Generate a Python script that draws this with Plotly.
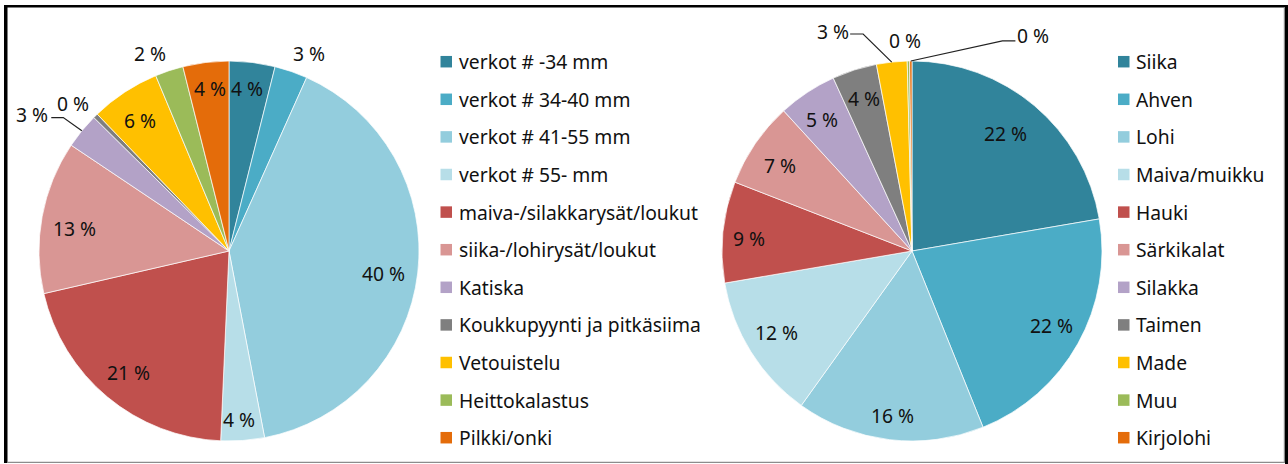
import math
import plotly.graph_objects as go

# ---------------- data ----------------
gear_labels = ["verkot # -34 mm", "verkot # 34-40 mm", "verkot # 41-55 mm", "verkot # 55- mm",
               "maiva-/silakkarysät/loukut", "siika-/lohirysät/loukut", "Katiska",
               "Koukkupyynti ja pitkäsiima", "Vetouistelu", "Heittokalastus", "Pilkki/onki"]
gear_share = [3.9, 2.8, 40.3, 3.7, 20.7, 13.0, 3.0, 0.4, 5.9, 2.4, 3.9]

species_labels = ["Siika", "Ahven", "Lohi", "Maiva/muikku", "Hauki", "Särkikalat", "Silakka",
                  "Taimen", "Made", "Muu", "Kirjolohi"]
species_share = [22.3, 21.6, 16.0, 12.4, 8.6, 7.3, 5.0, 3.8, 2.6, 0.2, 0.2]

# ---------------- style ----------------
colors = ["#31849B", "#4BACC6", "#93CDDD", "#B7DEE8", "#C0504D", "#D99694",
          "#B3A2C7", "#7F7F7F", "#FFC000", "#9BBB59", "#E46C0A"]

W, H = 1288, 464
FONT = "Noto Sans"
FS = 19.3
TXT = "#111111"

# pie geometry in pixels: centre x, centre y, radius
left_geom = (229, 251, 190)
right_geom = (912, 251, 190)

# label placement per slice: (radius factor, angle offset deg)
left_lbl = [(0.86, -0.7), (1.12, 3.0), (0.82, 1.5), (0.89, 0.7), (0.83, 0.0), (0.82, -2.0),
            (1.26, -4.5), (1.13, -2.0), (0.83, -1.0), (1.12, -3.4), (0.86, 0.5)]
right_lbl = [(0.79, -1.4), (0.83, -1.0), (0.87, 0.0), (0.83, 1.0), (0.86, -1.4), (0.83, -1.4),
             (0.84, -0.8), (0.84, 0.0), (1.23, -13.6), (1.11, -0.8), (1.30, 29.8)]
# leader lines: slice index -> (dx start from label centre, dx elbow, dy)
left_leaders = {6: (19, 31, 3)}
right_leaders = {8: (17, 30, 3), 10: (-18, -31, 5)}

legend_left_x = 440.5   # square left edge
legend_right_x = 1118
legend_top = 61.7
legend_step = 37.6
sq = 11.5


def px(x):
    return x / W


def py(y):
    return 1 - y / H


fig = go.Figure()
annotations = []
shapes = []


def add_pie(labels, values, geom, lbl, leaders, leg_x):
    cx, cy, r = geom
    fig.add_trace(go.Pie(
        labels=labels, values=values, sort=False, direction="clockwise", rotation=0,
        marker=dict(colors=colors, line=dict(color="white", width=0.7)),
        textinfo="none", showlegend=False, hoverinfo="label+percent",
        domain=dict(x=[px(cx - r), px(cx + r)], y=[py(cy + r), py(cy - r)]),
    ))
    total = sum(values)
    cum = 0.0
    for i, v in enumerate(values):
        mid = (cum + v / 2) / total * 360.0
        cum += v
        f, dth = lbl[i]
        th = math.radians(mid + dth)
        lx = cx + r * f * math.sin(th)
        ly = cy - r * f * math.cos(th)
        pct = v / total * 100
        annotations.append(dict(x=px(lx), y=py(ly), xref="paper", yref="paper",
                                text=f"{pct:.0f} %", showarrow=False,
                                xanchor="center", yanchor="middle",
                                font=dict(family=FONT, size=FS, color=TXT)))
        if i in leaders:
            d0, d1, dy = leaders[i]
            ex = cx + r * math.sin(math.radians(mid))
            ey = cy - r * math.cos(math.radians(mid))
            path = (f"M {px(lx + d0)} {py(ly + dy)} L {px(lx + d1)} {py(ly + dy)} "
                    f"L {px(ex)} {py(ey)}")
            shapes.append(dict(type="path", path=path, xref="paper", yref="paper",
                               line=dict(color="#222222", width=1.2)))
    # legend
    for i, lab in enumerate(labels):
        yc = legend_top + i * legend_step
        shapes.append(dict(type="rect", xref="paper", yref="paper",
                           x0=px(leg_x), x1=px(leg_x + sq),
                           y0=py(yc + sq / 2), y1=py(yc - sq / 2),
                           fillcolor=colors[i], line=dict(width=0)))
        annotations.append(dict(x=px(leg_x + sq + 4.5), y=py(yc), xref="paper", yref="paper",
                                text=lab, showarrow=False, xanchor="left", yanchor="middle",
                                font=dict(family=FONT, size=FS, color=TXT)))


add_pie(gear_labels, gear_share, left_geom, left_lbl, left_leaders, legend_left_x)
add_pie(species_labels, species_share, right_geom, right_lbl, right_leaders, legend_right_x)

# outer frame
frame = [
    dict(x0=4, x1=7.5, y0=5, y1=463, c="black"),
    dict(x0=4, x1=1288, y0=5, y1=7.5, c="black"),
    dict(x0=1285, x1=1288, y0=5, y1=464, c="black"),
    dict(x0=1283.8, x1=1285, y0=7.5, y1=463, c="#8c8c8c"),
    dict(x0=7.5, x1=1285, y0=461.8, y1=463, c="#8c8c8c"),
]
for fr in frame:
    shapes.append(dict(type="rect", xref="paper", yref="paper",
                       x0=px(fr["x0"]), x1=px(fr["x1"]), y0=py(fr["y1"]), y1=py(fr["y0"]),
                       fillcolor=fr["c"], line=dict(width=0), layer="above"))

fig.update_layout(
    width=W, height=H, margin=dict(l=0, r=0, t=0, b=0),
    paper_bgcolor="white", plot_bgcolor="white",
    annotations=annotations, shapes=shapes, showlegend=False,
    font=dict(family=FONT, size=FS, color=TXT),
)

fig.write_html("out.html", config={"displayModeBar": False},
               post_script="document.body.style.margin='0';document.body.style.overflow='hidden';")
